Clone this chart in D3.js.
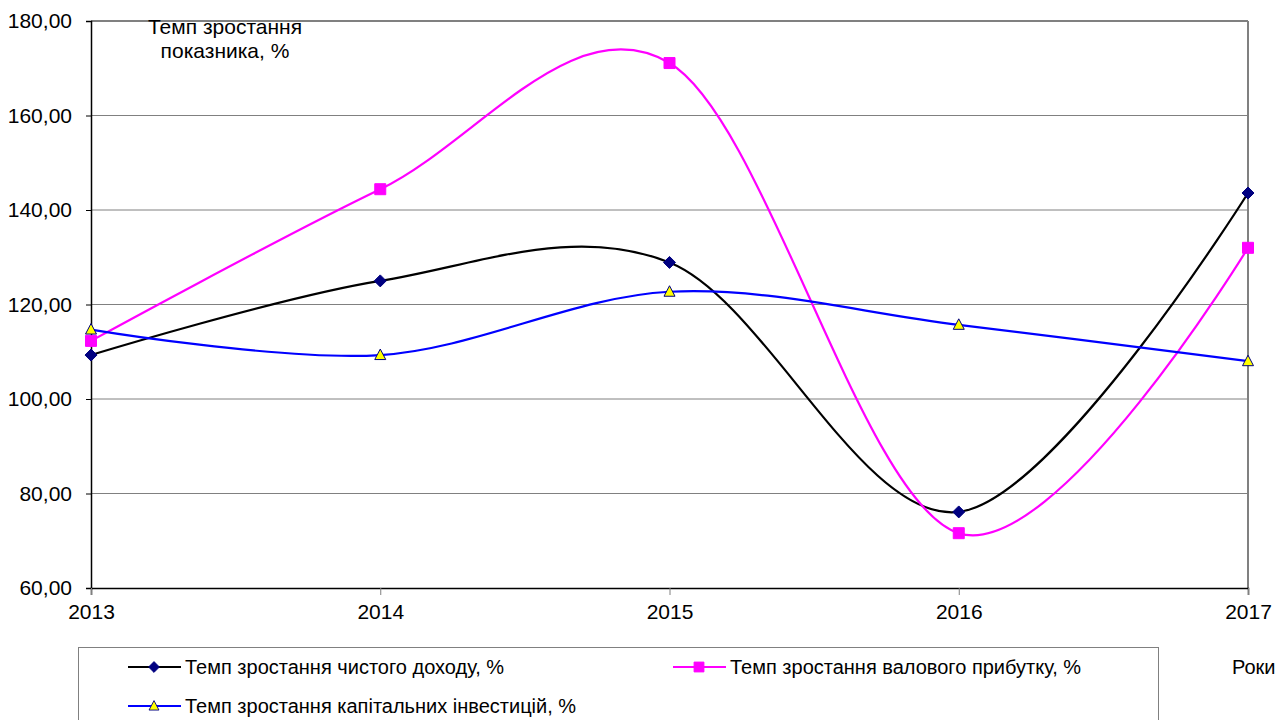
<!DOCTYPE html>
<html><head><meta charset="utf-8">
<script src="https://cdn.jsdelivr.net/npm/d3@7"></script>
<style>body{margin:0;background:#fff;font-family:"Liberation Sans",Arial,sans-serif}</style>
</head><body><svg id="c" width="1280" height="720"></svg>
<script>
const years = ["2013","2014","2015","2016","2017"];
const netIncome = [109.3, 125.0, 128.9, 76.1, 143.6];
const grossProfit = [112.3, 144.4, 171.1, 71.6, 132.0];
const capInvest = [114.7, 109.3, 122.7, 115.7, 108.0];
const yTicks = [60, 80, 100, 120, 140, 160, 180];
const seriesNames = ["Темп зростання чистого доходу, %", "Темп зростання валового прибутку, %", "Темп зростання капітальних інвестицій, %"];
const yTitle = ["Темп зростання", "показника, %"];
const xTitle = "Роки";

const svg = d3.select("#c");
const L = 91, R = 1248, T = 21, B = 588;
const x = d3.scalePoint().domain(years).range([L, R]);
const y = d3.scaleLinear().domain([60, 180]).range([B, T]);
const font = "Liberation Sans, Arial, sans-serif";

// gridlines
svg.append("g").selectAll("line").data(yTicks.filter(v => v > 60)).join("line")
  .attr("x1", L).attr("x2", R).attr("y1", d => y(d)).attr("y2", d => y(d))
  .attr("stroke", "#808080").attr("stroke-width", d => d === 180 ? 2 : 1);
svg.append("line").attr("x1", R).attr("x2", R).attr("y1", T).attr("y2", B)
  .attr("stroke", "#808080").attr("stroke-width", 2);

// y axis
const yAxis = d3.axisLeft(y).tickValues(yTicks).tickSize(5).tickPadding(14)
  .tickFormat(d => d3.format(".2f")(d).replace(".", ","));
const gy = svg.append("g").attr("transform", `translate(${L},0)`).call(yAxis);
gy.select(".domain").attr("stroke", "#000").attr("stroke-width", 1.5);
gy.selectAll(".tick line").attr("stroke", "#000");
gy.selectAll("text").attr("font-family", font).attr("font-size", 21).attr("fill", "#000");

// x axis
const xAxis = d3.axisBottom(x).tickSize(7).tickPadding(9);
const gx = svg.append("g").attr("transform", `translate(0,${B})`).call(xAxis);
gx.select(".domain").attr("stroke", "#000").attr("stroke-width", 1.5);
gx.selectAll(".tick line").attr("stroke", "#808080");
gx.selectAll("text").attr("font-family", font).attr("font-size", 21).attr("fill", "#000");

// y title
svg.append("text").attr("x", 225).attr("y", 34).attr("text-anchor", "middle")
  .attr("font-family", font).attr("font-size", 21).text(yTitle[0]);
svg.append("text").attr("x", 225).attr("y", 58).attr("text-anchor", "middle")
  .attr("font-family", font).attr("font-size", 21).text(yTitle[1]);

const line = d3.line().x((d, i) => x(years[i])).y(d => y(d)).curve(d3.curveCardinal.tension(0));

const series = [
  {vals: netIncome, color: "#000000", marker: "diamond", fill: "#000080", mstroke: "#000080"},
  {vals: grossProfit, color: "#FF00FF", marker: "square", fill: "#FF00FF", mstroke: "#FF00FF"},
  {vals: capInvest, color: "#0000FF", marker: "triangle", fill: "#FFFF00", mstroke: "#000080"}
];
const sym = {
  diamond: () => "M0,-6L6,0L0,6L-6,0Z",
  square: () => "M-5.5,-5.5H5.5V5.5H-5.5Z",
  triangle: () => "M0,-6L5.5,4.5H-5.5Z"
};

series.forEach(s => {
  svg.append("path").attr("d", line(s.vals)).attr("fill", "none")
    .attr("stroke", s.color).attr("stroke-width", 2.2);
});
series.forEach(s => {
  svg.append("g").selectAll("path").data(s.vals).join("path")
    .attr("d", sym[s.marker]())
    .attr("transform", (d, i) => `translate(${x(years[i])},${y(d)})`)
    .attr("fill", s.fill).attr("stroke", s.mstroke).attr("stroke-width", 1);
});

// legend
svg.append("rect").attr("x", 78.5).attr("y", 647.5).attr("width", 1080).attr("height", 90)
  .attr("fill", "#fff").attr("stroke", "#808080").attr("stroke-width", 1);
const legPos = [[128, 667], [673, 667], [128, 706]];
series.forEach((s, i) => {
  const [lx, ly] = legPos[i];
  svg.append("line").attr("x1", lx).attr("x2", lx + 53).attr("y1", ly).attr("y2", ly)
    .attr("stroke", s.color).attr("stroke-width", 2.2);
  svg.append("path").attr("d", sym[s.marker]()).attr("transform", `translate(${lx + 26},${ly}) scale(0.9)`)
    .attr("fill", s.fill).attr("stroke", s.mstroke).attr("stroke-width", 1);
  svg.append("text").attr("x", lx + 57).attr("y", ly).attr("dy", "0.35em")
    .attr("font-family", font).attr("font-size", 20).text(seriesNames[i]);
});

svg.append("text").attr("x", 1232).attr("y", 667).attr("dy", "0.35em")
  .attr("font-family", font).attr("font-size", 20).text(xTitle);
</script></body></html>
